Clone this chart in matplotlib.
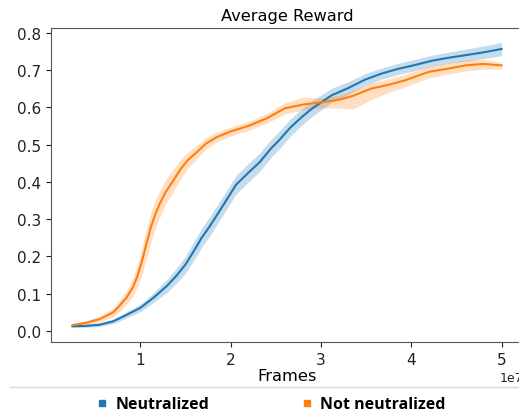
import numpy as np
import matplotlib
matplotlib.use("Agg")
import matplotlib.pyplot as plt
from matplotlib.lines import Line2D

# neutralized: frames (x 1e7), mean and band half-width
frames_neut = np.array([0.25, 0.4, 0.55, 0.7, 0.82, 1.0, 1.15, 1.3, 1.4, 1.5, 1.59, 1.68,
                        1.77, 1.9, 2.06, 2.2, 2.32, 2.45, 2.54, 2.66, 2.79, 2.9, 3.01, 3.12,
                        3.31, 3.49, 3.67, 3.86, 4.04, 4.22, 4.4, 4.59, 4.8, 5.0]) * 1e7
neut_mean = [0.013, 0.014, 0.017, 0.026, 0.040, 0.062, 0.090, 0.122, 0.148, 0.178, 0.213,
             0.250, 0.281, 0.330, 0.392, 0.425, 0.452, 0.490, 0.512, 0.545, 0.574, 0.596,
             0.614, 0.632, 0.652, 0.674, 0.690, 0.703, 0.713, 0.724, 0.732, 0.739, 0.747,
             0.756]
neut_band = [0.004, 0.004, 0.005, 0.006, 0.008, 0.010, 0.013, 0.018, 0.020, 0.023, 0.025,
             0.026, 0.026, 0.025, 0.025, 0.025, 0.025, 0.024, 0.024, 0.023, 0.022, 0.021,
             0.020, 0.019, 0.017, 0.016, 0.015, 0.015, 0.015, 0.015, 0.015, 0.016, 0.017,
             0.018]

# not neutralized: frames (x 1e7), mean, lower and upper band widths
frames_notn = np.array([0.25, 0.4, 0.55, 0.7, 0.76, 0.85, 0.92, 0.97, 1.02, 1.07, 1.12, 1.17,
                        1.22, 1.28, 1.37, 1.45, 1.53, 1.62, 1.73, 1.85, 2.0, 2.2, 2.4, 2.6,
                        2.8, 3.0, 3.2, 3.35, 3.56, 3.75, 3.93, 4.2, 4.4, 4.6, 4.8, 5.0]) * 1e7
notn_mean = [0.016, 0.022, 0.032, 0.050, 0.065, 0.090, 0.118, 0.148, 0.188, 0.235, 0.280,
             0.315, 0.343, 0.372, 0.405, 0.435, 0.459, 0.478, 0.503, 0.520, 0.535, 0.550,
             0.570, 0.597, 0.607, 0.613, 0.620, 0.630, 0.650, 0.660, 0.672, 0.695, 0.703,
             0.712, 0.716, 0.712]
notn_low = [0.004, 0.006, 0.008, 0.012, 0.014, 0.018, 0.024, 0.030, 0.036, 0.040, 0.040,
            0.038, 0.036, 0.033, 0.030, 0.026, 0.022, 0.018, 0.015, 0.013, 0.012, 0.012,
            0.013, 0.015, 0.015, 0.015, 0.022, 0.036, 0.030, 0.020, 0.018, 0.016, 0.015,
            0.015, 0.014, 0.010]
notn_high = [0.004, 0.006, 0.008, 0.012, 0.014, 0.018, 0.024, 0.030, 0.036, 0.040, 0.040,
             0.038, 0.036, 0.033, 0.030, 0.026, 0.022, 0.018, 0.015, 0.013, 0.012, 0.012,
             0.013, 0.015, 0.020, 0.012, 0.012, 0.015, 0.015, 0.016, 0.016, 0.015, 0.015,
             0.015, 0.012, 0.008]

labels = ["Neutralized", "Not neutralized"]
blue, orange = "#1f77b4", "#ff7f0e"

fig = plt.figure(figsize=(5.19, 4.14), dpi=100)
ax = fig.add_axes([51 / 519, 71 / 414, 472 / 519, 314 / 414])

nm, nb = np.array(neut_mean), np.array(neut_band)
om = np.array(notn_mean)
ax.fill_between(frames_neut, nm - nb, nm + nb, color=blue, alpha=0.25, linewidth=0)
ax.plot(frames_neut, nm, color=blue, lw=1.5)
ax.fill_between(frames_notn, om - np.array(notn_low), om + np.array(notn_high),
                color=orange, alpha=0.25, linewidth=0)
ax.plot(frames_notn, om, color=orange, lw=1.5)

ax.set_yticks(np.arange(0, 0.81, 0.1))
ax.set_xticks(np.arange(1, 6) * 1e7)
ax.tick_params(labelsize=11, colors="#222222")
ax.xaxis.get_offset_text().set_fontsize(9)
ax.set_title("Average Reward", fontsize=11.7)
ax.set_xlabel("Frames", fontsize=11.7, labelpad=1)
ax.spines["right"].set_visible(False)
for s in ["left", "top", "bottom"]:
    ax.spines[s].set_color("#555555")

# separator line and legend below the plot
fig.add_artist(Line2D([10 / 519, 1.0], [1 - 388 / 414] * 2, color="#d9d9d9", lw=1))
handles = [Line2D([], [], marker="s", color=c, linestyle="None", markersize=5)
           for c in (blue, orange)]
fig.legend(handles, labels, loc="center", bbox_to_anchor=(0.52, 0.021), ncol=2,
           frameon=False, handletextpad=0.35, columnspacing=5.6, handlelength=1,
           prop={"family": "Open Sans", "weight": "bold", "size": 11.5})

fig.savefig("out.png", dpi=100)
